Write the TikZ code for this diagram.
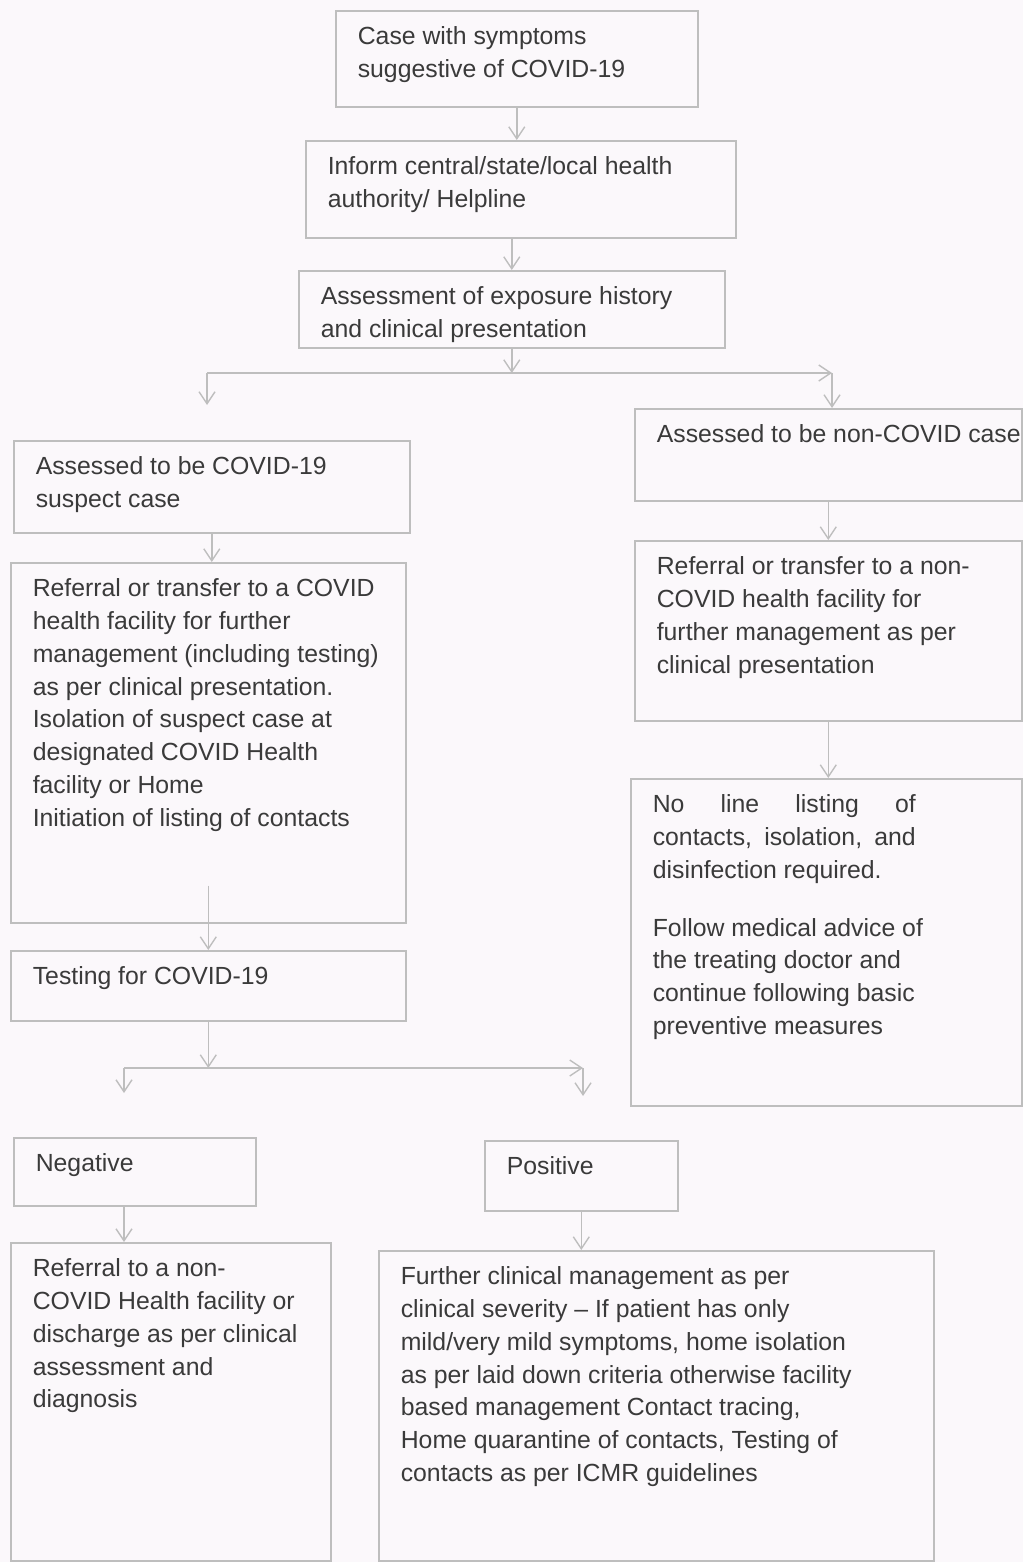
\documentclass[tikz,border=0pt]{standalone}
\usepackage{fontspec}
\setmainfont{Liberation Sans}
\usetikzlibrary{arrows.meta}

\definecolor{paper}{HTML}{FBF8FB}
\definecolor{linegray}{HTML}{BEBEBE}
\definecolor{inkgray}{HTML}{3A3A3A}
\newcommand{\boxtxt}[3]{\parbox[t][#2][t]{#1}{\raggedright #3}}

\begin{document}
\begin{tikzpicture}
  [x=1pt,y=-1pt,
   fbox/.style={draw=linegray,line width=1.6pt,anchor=north west,inner xsep=22pt,inner ysep=16pt,
     text=inkgray,font=\fontsize{24.8}{32.8}\selectfont},
   arr/.style={draw=linegray,line width=1.4pt,-{Straight Barb[length=12pt,width=16pt,line width=1.4pt]}}]
  \path[fill=paper,use as bounding box] (0,0) rectangle (1023,1562);

  \node[fbox] (case) at (335,10) {\boxtxt{318pt}{64pt}{Case with symptoms\\ suggestive of COVID-19}};
  \node[fbox] (inform) at (305,140) {\boxtxt{386pt}{65pt}{Inform central/state/local health\\ authority/ Helpline}};
  \node[fbox] (assess) at (298,270) {\boxtxt{382pt}{45pt}{Assessment of exposure history\\ and clinical presentation}};

  \node[fbox] (suspect) at (13,440) {\boxtxt{352pt}{60pt}{Assessed to be COVID-19\\ suspect case}};
  \node[fbox] (refer) at (10,562) {\boxtxt{351pt}{328pt}{Referral or transfer to a COVID\\ health facility for further\\ management (including testing)\\ as per clinical presentation.\\ Isolation of suspect case at\\ designated COVID Health\\ facility or Home\\ Initiation of listing of contacts}};
  \node[fbox] (testing) at (10,950) {\boxtxt{351pt}{38pt}{Testing for COVID-19}};

  \node[fbox] (noncovid) at (634,408) {\boxtxt{343pt}{60pt}{\mbox{Assessed to be non-COVID case}}};
  \node[fbox] (nonref) at (634,540) {\boxtxt{343pt}{148pt}{Referral or transfer to a non-\\ COVID health facility for\\ further management as per\\ clinical presentation}};
  \node[fbox] (noline) at (630,778) {\boxtxt{347pt}{295pt}{\makebox[263pt][s]{No line listing of}\\ \makebox[263pt][s]{contacts, isolation, and}\\ disinfection required.\\[25pt] Follow medical advice of\\ the treating doctor and\\ continue following basic\\ preventive measures}};

  \node[fbox] (negative) at (13,1137) {\boxtxt{198pt}{36pt}{Negative}};
  \node[fbox] (positive) at (484,1140) {\boxtxt{149pt}{38pt}{Positive}};
  \node[fbox] (negref) at (10,1242) {\boxtxt{276pt}{286pt}{Referral to a non-\\ COVID Health facility or\\ discharge as per clinical\\ assessment and\\ diagnosis}};
  \node[fbox] (posmgmt) at (378,1250) {\boxtxt{511pt}{278pt}{Further clinical management as per\\ clinical severity -- If patient has only\\ mild/very mild symptoms, home isolation\\ as per laid down criteria otherwise facility\\ based management Contact tracing,\\ Home quarantine of contacts, Testing of\\ contacts as per ICMR guidelines}};

  % branch points
  \coordinate (s1) at (207,373);
  \coordinate (e1) at (832,373);
  \coordinate (d1) at (207,405);
  \coordinate (s2) at (124,1068);
  \coordinate (e2) at (583,1068);
  \coordinate (d2) at (124,1093);
  \coordinate (d3) at (583,1096);

  \foreach \from/\to in {case/inform,suspect/refer,noncovid/nonref,nonref/noline,positive/posmgmt}
    \draw[arr] (\from.south) -- (\from.south |- \to.north);

  \draw[arr] (inform.south -| assess.north) -- (assess.north);
  \draw[arr] ([yshift=38pt]refer.south) -- (refer.south |- testing.north);
  \draw[arr] (negative.south -| d2) -- (negref.north -| d2);

  \draw[arr] (assess.south) -- (assess.south |- s1);
  \draw[arr] (s1) -- (e1);
  \draw[arr] (s1) -- (d1);
  \draw[arr] (e1) -- (e1 |- noncovid.north);
  \draw[arr] (testing.south) -- (testing.south |- s2);
  \draw[arr] (s2) -- (e2);
  \draw[arr] (s2) -- (d2);
  \draw[arr] (e2) -- (d3);

\end{tikzpicture}
\end{document}
